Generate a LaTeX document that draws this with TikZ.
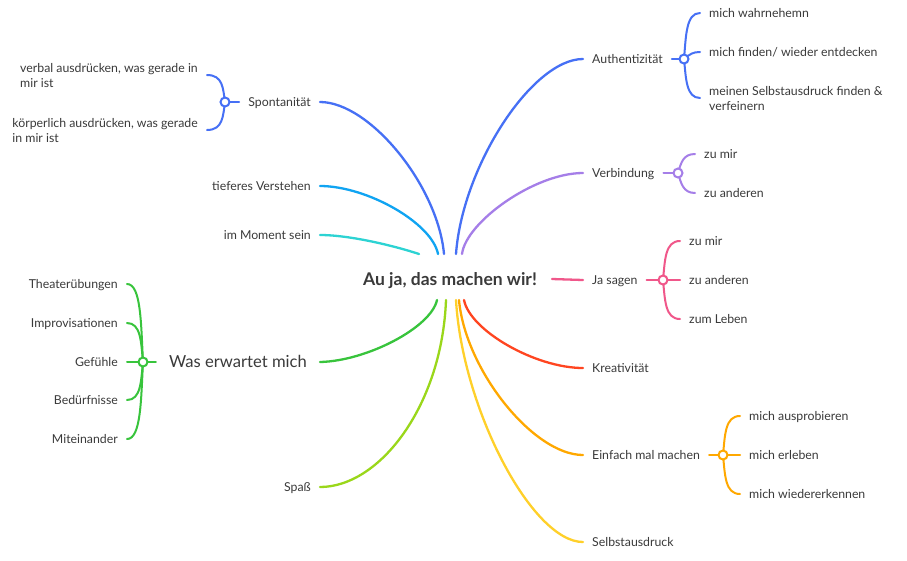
\documentclass[tikz,border=0pt]{standalone}
\usepackage{fontspec}
\setmainfont{Lato}
\pgfdeclarelayer{bg}
\pgfsetlayers{bg,main}
\definecolor{txt}{HTML}{3A3A3A}
\definecolor{blueA}{HTML}{4670F5}
\definecolor{blueB}{HTML}{10A4F2}
\definecolor{cyanA}{HTML}{2DD3D3}
\definecolor{purpleA}{HTML}{A57EE8}
\definecolor{pinkA}{HTML}{F0578A}
\definecolor{redA}{HTML}{FF4520}
\definecolor{orangeA}{HTML}{FFA800}
\definecolor{yellowA}{HTML}{FFD02A}
\definecolor{limeA}{HTML}{9AD71A}
\definecolor{greenA}{HTML}{38C43C}
\tikzset{
  lbl/.style={font=\fontsize{12.3}{15}\selectfont, text=txt, inner xsep=9pt, inner ysep=0pt},
  onel/.style={lbl, text height=11.7pt, text depth=2.5pt},
  llbl/.style={onel, anchor=east},
  rlbl/.style={onel, anchor=west},
  mainline/.style={line width=2.3pt, line cap=round},
  subline/.style={line width=2pt, line cap=round},
  hub/.style={circle, draw, fill=white, line width=2pt, minimum size=9pt, inner sep=0pt}
}
\begin{document}
\begin{tikzpicture}[x=1pt,y=-1pt]
\useasboundingbox (0,0) rectangle (907,560);

% root
\node[font=\fontsize{17.5}{20}\selectfont\bfseries, text=txt] (root) at (450,281) {Au ja, das machen wir!};
\coordinate (rSp) at (444,254);
\coordinate (rTi) at (438,254);
\coordinate (rMo) at (419,254);
\coordinate (rAu) at (456,254);
\coordinate (rVe) at (462,254);
\coordinate (rJa) at (552,279);
\coordinate (rKr) at (464,300);
\coordinate (rEi) at (459,300);
\coordinate (rSe) at (456,300);
\coordinate (rWa) at (437,300);
\coordinate (rSa) at (446,300);

% main labels
\node[llbl] (spont) at (320,102) {Spontanität};
\node[llbl] (tief) at (320,186) {tieferes Verstehen};
\node[llbl] (mom) at (320,235) {im Moment sein};
\node[llbl, font=\fontsize{16.6}{19}\selectfont, inner xsep=13pt, text height=14.4pt, text depth=3pt] (was) at (320,362) {Was erwartet mich};
\node[llbl] (spass) at (320,487) {Spaß};
\node[rlbl] (auth) at (583,59) {Authentizität};
\node[rlbl] (verb) at (583,173) {Verbindung};
\node[rlbl] (ja) at (583,280) {Ja sagen};
\node[rlbl] (krea) at (583,368) {Kreativität};
\node[rlbl] (einf) at (583,455) {Einfach mal machen};
\node[rlbl] (selbst) at (583,542) {Selbstausdruck};

% hubs
\node[hub, draw=blueA] (hs) at (225,102) {};
\node[hub, draw=blueA] (ha) at (684,59) {};
\node[hub, draw=purpleA] (hv) at (678,173) {};
\node[hub, draw=pinkA] (hj) at (663,280) {};
\node[hub, draw=orangeA] (he) at (723,455) {};
\node[hub, draw=greenA] (hw) at (143,362) {};

% sub labels
\node[lbl, anchor=east, align=left] (s1) at (207,76) {verbal ausdrücken, was gerade in\\mir ist};
\node[lbl, anchor=east, align=left] (s2) at (207,131) {körperlich ausdrücken, was gerade\\in mir ist};
\node[rlbl] (a1) at (700,13) {mich wahrnehemn};
\node[rlbl] (a2) at (700,52) {mich finden/ wieder entdecken};
\node[lbl, anchor=west, align=left] (a3) at (700,99) {meinen Selbstausdruck finden \&\\verfeinern};
\node[rlbl] (v1) at (695,154) {zu mir};
\node[rlbl] (v2) at (695,193) {zu anderen};
\node[rlbl] (j1) at (680,241) {zu mir};
\node[rlbl] (j2) at (680,280) {zu anderen};
\node[rlbl] (j3) at (680,319) {zum Leben};
\node[rlbl] (e1) at (740,416) {mich ausprobieren};
\node[rlbl] (e2) at (740,455) {mich erleben};
\node[rlbl] (e3) at (740,494) {mich wiedererkennen};
\node[llbl] (w1) at (127,284) {Theaterübungen};
\node[llbl] (w2) at (127,323) {Improvisationen};
\node[llbl] (w3) at (127,362) {Gefühle};
\node[llbl] (w4) at (127,400) {Bedürfnisse};
\node[llbl] (w5) at (127,439) {Miteinander};
\coordinate (s1e) at (207,75);
\coordinate (s2e) at (207,130);
\coordinate (a3e) at (700,98);

\begin{pgfonlayer}{bg}
\fill[white] (0,0) rectangle (907,560);
% main branches
\draw[mainline, blueA] (spont.east) .. controls (369.6,102) and (437.8,185.6) .. (rSp);
\draw[mainline, blueB] (tief.east) .. controls (367,186) and (432,223) .. (rTi);
\draw[mainline, cyanA] (mom.east) .. controls (350,235) and (395,246) .. (rMo);
\draw[mainline, blueA] (auth.west) .. controls (532.2,59) and (462.4,166.25) .. (rAu);
\draw[mainline, purpleA] (verb.west) .. controls (534.6,173) and (466,222) .. (rVe);
\draw[mainline, pinkA] (rJa) -- (ja.west);
\draw[mainline, redA] (krea.west) .. controls (535.4,368) and (470,330.6) .. (rKr);
\draw[mainline, orangeA] (einf.west) .. controls (533.4,455) and (465.2,369.75) .. (rEi);
\draw[mainline, yellowA] (selbst.west) .. controls (532.2,542) and (462.35,408.9) .. (rSe);
\draw[mainline, greenA] (was.east) .. controls (366.8,361) and (431.15,327.45) .. (rWa);
\draw[mainline, limeA] (spass.east) .. controls (380,487) and (442,405) .. (rSa);

% Spontanitaet
\draw[subline, blueA] (spont.west) -- (hs.center);
\draw[subline, blueA] (hs.center) .. controls (223,88.5) and (223,75) .. (s1e);
\draw[subline, blueA] (hs.center) .. controls (223,116) and (223,130) .. (s2e);
% Authentizitaet
\draw[subline, blueA] (auth.east) -- (ha.center);
\draw[subline, blueA] (ha.center) .. controls (686,36) and (686,13) .. (a1.west);
\draw[subline, blueA] (ha.center) .. controls (690,54) and (693,52) .. (a2.west);
\draw[subline, blueA] (ha.center) .. controls (686,78) and (686,98) .. (a3e);
% Verbindung
\draw[subline, purpleA] (verb.east) -- (hv.center);
\draw[subline, purpleA] (hv.center) .. controls (681,163) and (683,154) .. (v1.west);
\draw[subline, purpleA] (hv.center) .. controls (681,183) and (683,193) .. (v2.west);
% Ja sagen
\draw[subline, pinkA] (ja.east) -- (hj.center);
\draw[subline, pinkA] (hj.center) .. controls (665,260) and (665,241) .. (j1.west);
\draw[subline, pinkA] (hj.center) -- (j2.west);
\draw[subline, pinkA] (hj.center) .. controls (665,300) and (665,319) .. (j3.west);
% Einfach mal machen
\draw[subline, orangeA] (einf.east) -- (he.center);
\draw[subline, orangeA] (he.center) .. controls (725,435) and (725,416) .. (e1.west);
\draw[subline, orangeA] (he.center) -- (e2.west);
\draw[subline, orangeA] (he.center) .. controls (725,475) and (725,494) .. (e3.west);
% Was erwartet mich
\draw[subline, greenA] (was.west) -- (hw.center);
\draw[subline, greenA] (hw.center) .. controls (141,323) and (141,284) .. (w1.east);
\draw[subline, greenA] (hw.center) .. controls (141,342) and (141,323) .. (w2.east);
\draw[subline, greenA] (hw.center) -- (w3.east);
\draw[subline, greenA] (hw.center) .. controls (141,381) and (141,400) .. (w4.east);
\draw[subline, greenA] (hw.center) .. controls (141,400) and (141,439) .. (w5.east);
\end{pgfonlayer}
\end{tikzpicture}
\end{document}
